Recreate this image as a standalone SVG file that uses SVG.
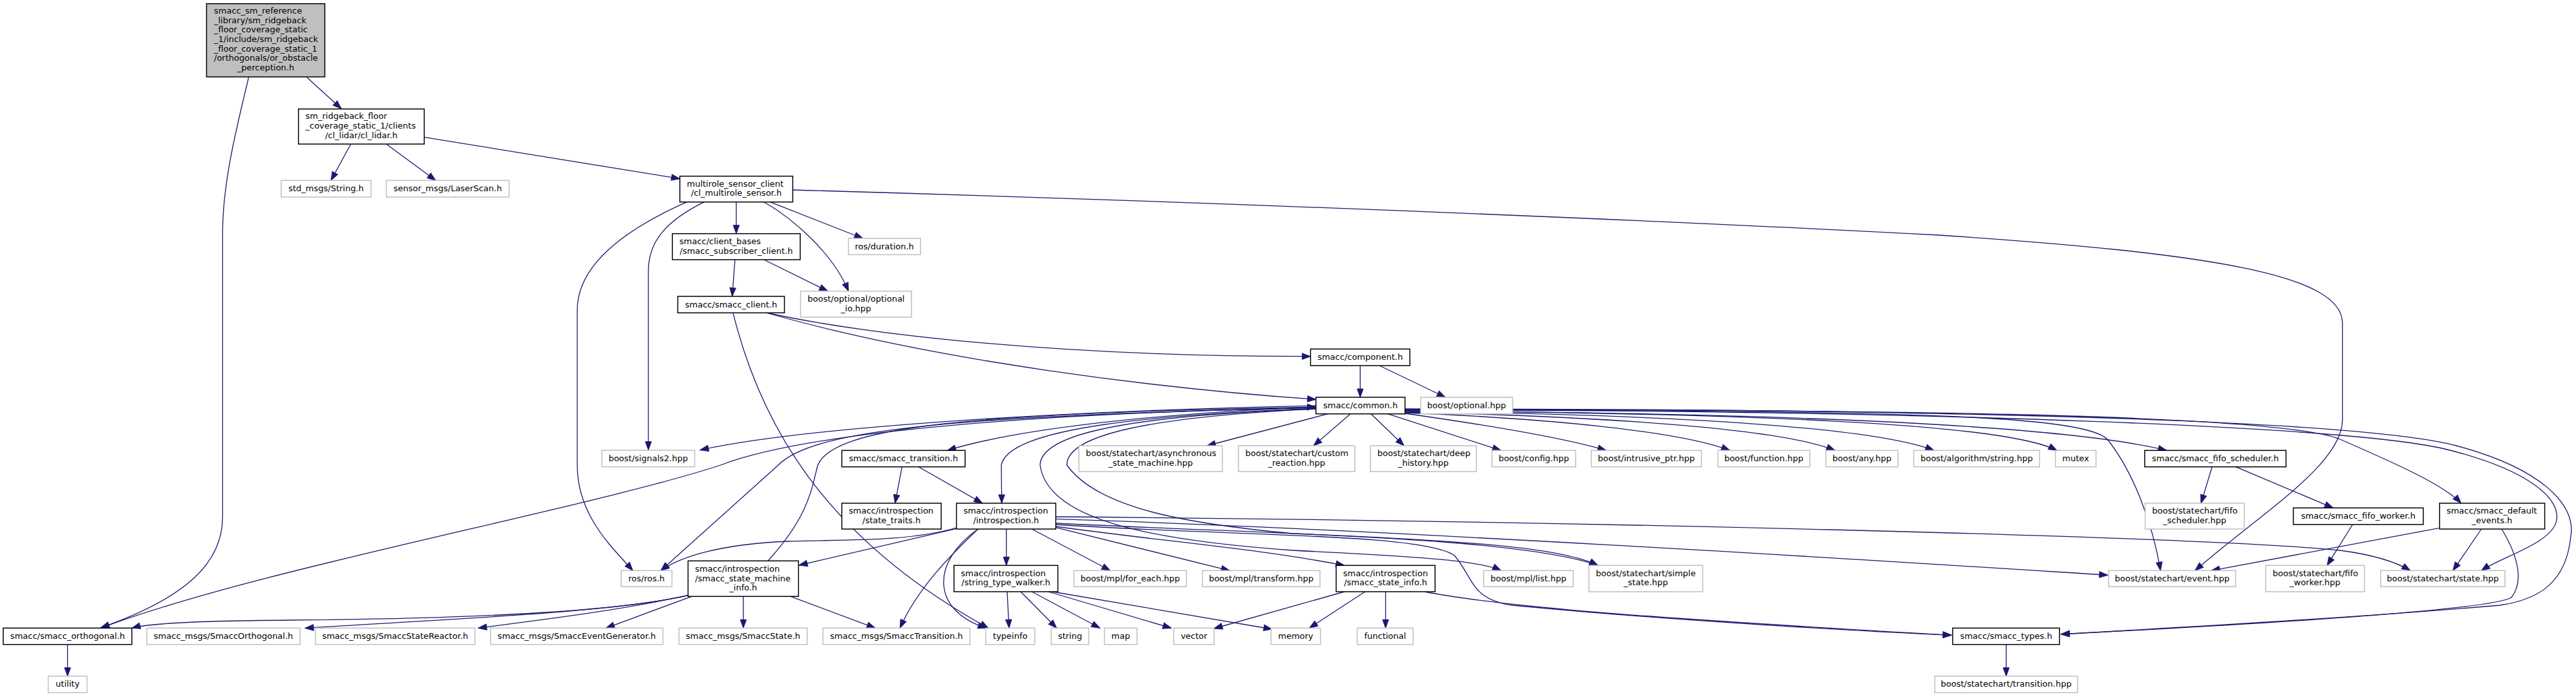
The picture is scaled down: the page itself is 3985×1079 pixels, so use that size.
<svg xmlns="http://www.w3.org/2000/svg" width="3985" height="1079" viewBox="0 0 3985 1079">
<style>
.b rect{fill:#fff;stroke:#000;stroke-width:1.5}
.g rect{fill:#fff;stroke:#bfbfbf;stroke-width:1.5}
.r rect{fill:#bfbfbf;stroke:#000;stroke-width:1.5}
text{font-family:"DejaVu Sans","Liberation Sans",sans-serif;font-size:13px;fill:#000}
.c{text-anchor:middle}
.l{text-anchor:start}
#edges path{fill:none;stroke:#191970;stroke-width:1.3;marker-end:url(#a)}
</style>
<defs>
<marker id="a" markerUnits="userSpaceOnUse" markerWidth="14" markerHeight="10" refX="13" refY="4.7" orient="auto" overflow="visible">
<path d="M0,0 L13,4.7 L0,9.4 z" fill="#191970" stroke="#191970" stroke-width="1"/>
</marker>
</defs>
<rect width="3985" height="1079" fill="#fff"/>
<g id="edges">
<path d="M475,120 L528,168.3"/>
<path d="M384.6,120 C 368,190 344.4,280 344.4,360 L344.4,800 C 344.4,870 290,925 156,971.7"/>
<path d="M542.7,223 L512,279.3"/>
<path d="M597.6,223 L674,279.3"/>
<path d="M656,212.3 L1051.7,276.7"/>
<path d="M1226.4,294 C 2000,316 2700,348 3000,364 C 3420,392 3623,425 3623.7,500 L3623.7,650 C 3623.7,720 3490,800 3395.7,883.3"/>
<path d="M1062.5,312.7 C 990,345 893,400 893,480 L893,720 C 893,800 950,850 979,883.3"/>
<path d="M1089.3,312.7 C 1035,340 1003,370 1003,420 L1003,696.7"/>
<path d="M1139,312.7 L1139,361.7"/>
<path d="M1181.8,312.7 C 1230,340 1290,395 1312.5,450.7"/>
<path d="M1191.3,312.7 L1334.8,369"/>
<path d="M1137,402 L1132.7,458.7"/>
<path d="M1181.8,402 L1280.6,450.7"/>
<path d="M1185,484 C 1350,520 1650,552 2027.4,551.7"/>
<path d="M1185,484 C 1450,560 1800,602 2035.7,618.3"/>
<path d="M1134,484.3 C 1175,650 1270,830 1529,972.3"/>
<path d="M2104.2,566 L2104.2,615"/>
<path d="M2134,566 L2236,615"/>
<path d="M2035.7,628 C 1650,636 1250,660 1083,696.7"/>
<path d="M2035.7,630 C 1750,642 1560,668 1465.6,697.3"/>
<path d="M2054,640.7 L1867.3,690"/>
<path d="M2089,640.7 L2032,690"/>
<path d="M2121,640.7 L2172,690"/>
<path d="M2146.7,640.7 L2322,697.3"/>
<path d="M2173.5,640 C 2300,658 2420,678 2484.7,697.3"/>
<path d="M2173.5,639 C 2400,648 2600,668 2676,697.3"/>
<path d="M2173.5,638 C 2500,645 2760,665 2838.6,697.3"/>
<path d="M2173.5,637 C 2600,642 2900,662 2991.7,697.3"/>
<path d="M2173.5,636 C 2700,640 3100,655 3182,697.3"/>
<path d="M2173.5,636 C 2800,640 3200,660 3351.8,697.3"/>
<path d="M2173.5,635 C 2900,636 3220,640 3260,680 C 3300,730 3330,810 3342.3,883.3"/>
<path d="M2173.5,634 C 2900,634 3520,640 3620,680 C 3700,715 3780,750 3807.2,779"/>
<path d="M2173.5,634 C 3000,636 3650,660 3790,697 C 3910,728 3960,770 3955,805 C 3950,840 3870,862 3838.6,883.3"/>
<path d="M2173.5,633 C 3000,633 3650,650 3800,690 C 3930,725 3985,780 3977,830 C 3970,900 3930,928 3867,937 C 3600,960 3300,975 3188.4,982"/>
<path d="M2035.7,631 C 1500,644 1260,662 1204,720 L1022.3,883.3"/>
<path d="M2035.7,631 C 1600,640 1250,668 1114.8,720 C 900,790 400,880 156,972.3"/>
<path d="M2035.7,632 C 1800,642 1560,660 1549,720 L1549.7,779"/>
<path d="M2035.7,633 C 1700,645 1610,680 1609,720 C 1620,800 1760,835 2000,852 C 2200,862 2290,868 2322,883.3"/>
<path d="M2035.7,633 C 1720,648 1650,685 1650.5,720 C 1700,790 1850,812 2000,826 C 2300,838 2420,850 2472,875.3"/>
<path d="M1479.6,818.3 L1236,875"/>
<path d="M1479.6,817 C 1400,840 1300,835 1220,838 C 1120,842 1055,860 1022.3,883.3"/>
<path d="M1513,819 C 1470,860 1420,910 1392.2,972.3"/>
<path d="M1513,819 C 1440,870 1440,945 1526,972.3"/>
<path d="M1556.8,819 L1556.8,875.3"/>
<path d="M1596.3,819 L1717.5,883.3"/>
<path d="M1633.3,816.7 L1902.4,883.3"/>
<path d="M1633.3,800 C 2400,806 3400,830 3620,852 C 3680,860 3710,872 3728.6,883.3"/>
<path d="M1633.3,803.3 C 2200,822 3000,874 3260.7,890.3"/>
<path d="M1633.3,815 C 1800,838 1950,850 2079.7,875.3"/>
<path d="M1633.3,810 C 2000,828 2350,832 2472,875.3"/>
<path d="M1633.3,812 C 1900,830 2200,825 2250,860 C 2280,895 2275,928 2340,937 C 2600,962 2900,978 3018.8,983.3"/>
<path d="M1395.4,722.7 L1384.6,779"/>
<path d="M1421,722.7 L1519.8,779"/>
<path d="M3422,722.7 L3405,779"/>
<path d="M3458.5,722.7 L3609.3,786.3"/>
<path d="M3639.4,812 L3599.9,875.3"/>
<path d="M3772.6,817.7 L3420.9,883.3"/>
<path d="M3838.6,819 L3794.6,883.3"/>
<path d="M3870,819 C 3895,860 3905,900 3885,925 C 3850,945 3500,966 3188.4,981.7"/>
<path d="M1149.9,923.3 L1149.9,972.3"/>
<path d="M1223.2,923.3 L1354,972.3"/>
<path d="M1064.4,921.7 C 950,948 700,958 450,960 C 300,961 230,965 204,972.3"/>
<path d="M1064.4,921.7 C 950,948 700,958 472,972.3"/>
<path d="M1064.4,921.7 C 950,946 850,958 739.8,972.3"/>
<path d="M1070,923.3 L937.5,972.3"/>
<path d="M1188,868.3 C 1250,800 1255,760 1265,720 C 1290,660 1500,640 2035.7,630"/>
<path d="M1558,916 L1561,972.3"/>
<path d="M1579,916 L1634.6,972.3"/>
<path d="M1596.3,916 L1701.5,972.3"/>
<path d="M1621.8,916 L1812,972.3"/>
<path d="M1628,916 L1968,974"/>
<path d="M2111.6,916 L2025.5,972.3"/>
<path d="M2143.5,916 L2143.5,972.3"/>
<path d="M2079.7,916 L1878,973"/>
<path d="M2204,916 C 2350,945 2700,965 3018.8,983.3"/>
<path d="M104.5,997.7 L104.5,1046.7"/>
<path d="M3103.5,997.7 L3103.5,1046.7"/>
</g>
<g id="n_root" class="r"><rect x="319.5" y="5.7" width="183" height="113.3"/>
<text class="l" x="331" y="21">smacc_sm_reference</text>
<text class="l" x="331" y="35.7">_library/sm_ridgeback</text>
<text class="l" x="331" y="50.3">_floor_coverage_static</text>
<text class="l" x="331" y="65">_1/include/sm_ridgeback</text>
<text class="l" x="331" y="79.7">_floor_coverage_static_1</text>
<text class="l" x="331" y="94.3">/orthogonals/or_obstacle</text>
<text class="c" x="411" y="109">_perception.h</text></g>
<g id="n_cl_lidar" class="b"><rect x="461.7" y="168.7" width="194.6" height="54.3"/>
<text class="l" x="472.5" y="184.3">sm_ridgeback_floor</text>
<text class="l" x="472.5" y="199">_coverage_static_1/clients</text>
<text class="c" x="559" y="213.6">/cl_lidar/cl_lidar.h</text></g>
<g id="n_string_h" class="g"><rect x="435" y="279.3" width="139" height="25.7"/><text class="c" x="504.5" y="296">std_msgs/String.h</text></g>
<g id="n_laserscan" class="g"><rect x="597.6" y="279.3" width="190" height="25.7"/><text class="c" x="692.6" y="296">sensor_msgs/LaserScan.h</text></g>
<g id="n_multirole" class="b"><rect x="1051.7" y="272.7" width="174.7" height="40"/>
<text class="l" x="1062.5" y="288.7">multirole_sensor_client</text>
<text class="c" x="1139" y="303.3">/cl_multirole_sensor.h</text></g>
<g id="n_subscriber" class="b"><rect x="1040.2" y="361.7" width="197.7" height="40.3"/>
<text class="l" x="1051" y="378">smacc/client_bases</text>
<text class="c" x="1139" y="392.7">/smacc_subscriber_client.h</text></g>
<g id="n_duration" class="g"><rect x="1312.5" y="369" width="111.5" height="25.3"/><text class="c" x="1368.2" y="385.7">ros/duration.h</text></g>
<g id="n_optional_io" class="g"><rect x="1238.5" y="450.7" width="171.5" height="40.3"/>
<text class="l" x="1249.3" y="467">boost/optional/optional</text>
<text class="c" x="1324.2" y="481.7">_io.hpp</text></g>
<g id="n_smacc_client" class="b"><rect x="1048.5" y="458.7" width="165" height="25.6"/><text class="c" x="1131" y="475.5">smacc/smacc_client.h</text></g>
<g id="n_component" class="b"><rect x="2027.4" y="540.3" width="153.6" height="25.7"/><text class="c" x="2104.2" y="557">smacc/component.h</text></g>
<g id="n_common" class="b"><rect x="2035.7" y="615" width="137.8" height="25.7"/><text class="c" x="2104.6" y="631.7">smacc/common.h</text></g>
<g id="n_optional" class="g"><rect x="2197.7" y="615" width="142.3" height="25.7"/><text class="c" x="2268.8" y="631.7">boost/optional.hpp</text></g>
<g id="n_signals2" class="g"><rect x="931" y="697" width="143.6" height="25.7"/><text class="c" x="1002.8" y="713.7">boost/signals2.hpp</text></g>
<g id="n_transition" class="b"><rect x="1302.3" y="697.3" width="190.7" height="25.4"/><text class="c" x="1397.6" y="714">smacc/smacc_transition.h</text></g>
<g id="n_async" class="g"><rect x="1669" y="690" width="222" height="40"/>
<text class="l" x="1679.8" y="706.3">boost/statechart/asynchronous</text>
<text class="c" x="1780" y="721">_state_machine.hpp</text></g>
<g id="n_custom" class="g"><rect x="1915.8" y="690" width="180" height="40"/>
<text class="l" x="1926.6" y="706.3">boost/statechart/custom</text>
<text class="c" x="2005.8" y="721">_reaction.hpp</text></g>
<g id="n_deep" class="g"><rect x="2120" y="690" width="163.8" height="40"/>
<text class="l" x="2130.8" y="706.3">boost/statechart/deep</text>
<text class="c" x="2201.9" y="721">_history.hpp</text></g>
<g id="n_config" class="g"><rect x="2308" y="697.3" width="129.5" height="25.4"/><text class="c" x="2372.7" y="714">boost/config.hpp</text></g>
<g id="n_intrusive" class="g"><rect x="2461.7" y="697.3" width="170.3" height="25.4"/><text class="c" x="2546.8" y="714">boost/intrusive_ptr.hpp</text></g>
<g id="n_function" class="g"><rect x="2657.5" y="697.3" width="142.2" height="25.4"/><text class="c" x="2728.6" y="714">boost/function.hpp</text></g>
<g id="n_any" class="g"><rect x="2824.6" y="697.3" width="111.6" height="25.4"/><text class="c" x="2880.4" y="714">boost/any.hpp</text></g>
<g id="n_algo" class="g"><rect x="2960.5" y="697.3" width="194.7" height="25.4"/><text class="c" x="3057.8" y="714">boost/algorithm/string.hpp</text></g>
<g id="n_mutex" class="g"><rect x="3179.6" y="697.3" width="62.9" height="25.4"/><text class="c" x="3211" y="714">mutex</text></g>
<g id="n_fifo_sched" class="b"><rect x="3317.8" y="697.3" width="218.6" height="25.4"/><text class="c" x="3427.1" y="714">smacc/smacc_fifo_scheduler.h</text></g>
<g id="n_state_traits" class="b"><rect x="1302.3" y="779" width="153.7" height="40"/>
<text class="l" x="1313" y="795.3">smacc/introspection</text>
<text class="c" x="1379.1" y="810">/state_traits.h</text></g>
<g id="n_introspection" class="b"><rect x="1479.6" y="779" width="153.7" height="40"/>
<text class="l" x="1490.4" y="795.3">smacc/introspection</text>
<text class="c" x="1556.4" y="810">/introspection.h</text></g>
<g id="n_fifo_sched_hpp" class="g"><rect x="3318.5" y="779" width="153.2" height="40"/>
<text class="l" x="3329.3" y="795.3">boost/statechart/fifo</text>
<text class="c" x="3395" y="810">_scheduler.hpp</text></g>
<g id="n_fifo_worker" class="b"><rect x="3547.7" y="786.3" width="201" height="25.7"/><text class="c" x="3648.2" y="803">smacc/smacc_fifo_worker.h</text></g>
<g id="n_default_events" class="b"><rect x="3773.9" y="779" width="162.7" height="40"/>
<text class="l" x="3784.7" y="795.3">smacc/smacc_default</text>
<text class="c" x="3855.2" y="810">_events.h</text></g>
<g id="n_ros" class="g"><rect x="961" y="883.3" width="78.5" height="25"/><text class="c" x="1000.2" y="900">ros/ros.h</text></g>
<g id="n_sm_info" class="b"><rect x="1064.4" y="868.3" width="170.9" height="55"/>
<text class="l" x="1075.2" y="885">smacc/introspection</text>
<text class="l" x="1075.2" y="899.7">/smacc_state_machine</text>
<text class="c" x="1149.8" y="914.3">_info.h</text></g>
<g id="n_stw" class="b"><rect x="1475.8" y="875.3" width="160.7" height="40.7"/>
<text class="l" x="1486.6" y="891.7">smacc/introspection</text>
<text class="c" x="1556.1" y="906.4">/string_type_walker.h</text></g>
<g id="n_for_each" class="g"><rect x="1661.4" y="883.3" width="174" height="25"/><text class="c" x="1748.4" y="900">boost/mpl/for_each.hpp</text></g>
<g id="n_transform" class="g"><rect x="1860.3" y="883.3" width="181.7" height="25"/><text class="c" x="1951.1" y="900">boost/mpl/transform.hpp</text></g>
<g id="n_state_info" class="b"><rect x="2067" y="875.3" width="153" height="40.7"/>
<text class="l" x="2077.8" y="891.7">smacc/introspection</text>
<text class="c" x="2143.5" y="906.4">/smacc_state_info.h</text></g>
<g id="n_list" class="g"><rect x="2295.3" y="883.3" width="138.4" height="25"/><text class="c" x="2364.5" y="900">boost/mpl/list.hpp</text></g>
<g id="n_simple_state" class="g"><rect x="2458" y="875.3" width="176" height="40.7"/>
<text class="l" x="2468.8" y="891.7">boost/statechart/simple</text>
<text class="c" x="2546" y="906.4">_state.hpp</text></g>
<g id="n_event" class="g"><rect x="3262" y="883.3" width="196.5" height="25"/><text class="c" x="3360.2" y="900">boost/statechart/event.hpp</text></g>
<g id="n_fifo_worker_hpp" class="g"><rect x="3505" y="875.3" width="152.7" height="40.7"/>
<text class="l" x="3515.8" y="891.7">boost/statechart/fifo</text>
<text class="c" x="3581.3" y="906.4">_worker.hpp</text></g>
<g id="n_state" class="g"><rect x="3682.8" y="883.3" width="192.2" height="25"/><text class="c" x="3778.9" y="900">boost/statechart/state.hpp</text></g>
<g id="n_orthogonal" class="b"><rect x="5" y="972.3" width="199" height="25.4"/><text class="c" x="104.5" y="989">smacc/smacc_orthogonal.h</text></g>
<g id="n_msg_orth" class="g"><rect x="227" y="972.3" width="237.3" height="25.4"/><text class="c" x="345.6" y="989">smacc_msgs/SmaccOrthogonal.h</text></g>
<g id="n_msg_reactor" class="g"><rect x="487.9" y="972.3" width="246.8" height="25.4"/><text class="c" x="611.3" y="989">smacc_msgs/SmaccStateReactor.h</text></g>
<g id="n_msg_evgen" class="g"><rect x="759" y="972.3" width="266.5" height="25.4"/><text class="c" x="892.2" y="989">smacc_msgs/SmaccEventGenerator.h</text></g>
<g id="n_msg_state" class="g"><rect x="1050.4" y="972.3" width="198.3" height="25.4"/><text class="c" x="1149.5" y="989">smacc_msgs/SmaccState.h</text></g>
<g id="n_msg_trans" class="g"><rect x="1273" y="972.3" width="227.6" height="25.4"/><text class="c" x="1386.8" y="989">smacc_msgs/SmaccTransition.h</text></g>
<g id="n_typeinfo" class="g"><rect x="1524.9" y="972.3" width="75.9" height="25.4"/><text class="c" x="1562.8" y="989">typeinfo</text></g>
<g id="n_string" class="g"><rect x="1626.3" y="972.3" width="58" height="25.4"/><text class="c" x="1655.3" y="989">string</text></g>
<g id="n_map" class="g"><rect x="1708.5" y="972.3" width="50.5" height="25.4"/><text class="c" x="1733.7" y="989">map</text></g>
<g id="n_vector" class="g"><rect x="1815.7" y="972.3" width="62.5" height="25.4"/><text class="c" x="1847" y="989">vector</text></g>
<g id="n_memory" class="g"><rect x="1966.2" y="972.3" width="76.5" height="25.4"/><text class="c" x="2004.4" y="989">memory</text></g>
<g id="n_functional" class="g"><rect x="2099.5" y="972.3" width="86.7" height="25.4"/><text class="c" x="2142.8" y="989">functional</text></g>
<g id="n_smacc_types" class="b"><rect x="3020.7" y="972.3" width="165.3" height="25.4"/><text class="c" x="3103.4" y="989">smacc/smacc_types.h</text></g>
<g id="n_utility" class="g"><rect x="74.6" y="1046.7" width="60" height="25.6"/><text class="c" x="104.6" y="1063.4">utility</text></g>
<g id="n_sc_transition" class="g"><rect x="2993" y="1046.7" width="221" height="25.6"/><text class="c" x="3103.5" y="1063.4">boost/statechart/transition.hpp</text></g>
</svg>
